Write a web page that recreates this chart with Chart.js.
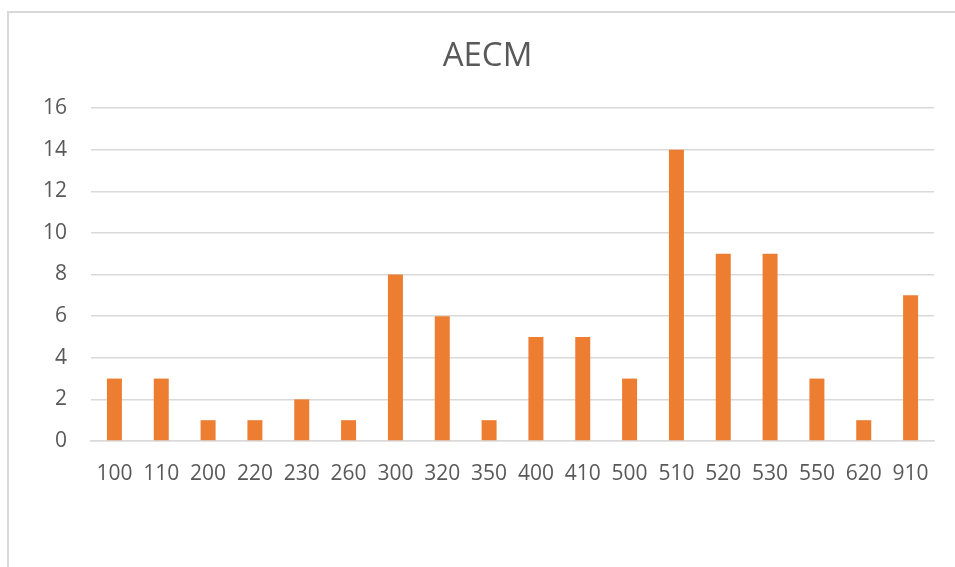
<!DOCTYPE html>
<html>
<head>
<meta charset="utf-8">
<script src="https://cdn.jsdelivr.net/npm/chart.js@4/dist/chart.umd.min.js"></script>
<style>
  html, body { margin: 0; padding: 0; background: #ffffff; }
  #wrap { width: 955px; height: 567px; position: relative; }
</style>
</head>
<body>
<div id="wrap"><canvas id="c" width="955" height="567"></canvas></div>
<script>
// Category labels (codes) and counts per code
const categories = ['100','110','200','220','230','260','300','320','350','400','410','500','510','520','530','550','620','910'];
const counts = [3, 3, 1, 1, 2, 1, 8, 6, 1, 5, 5, 3, 14, 9, 9, 3, 1, 7];
const yTicks = [0, 2, 4, 6, 8, 10, 12, 14, 16];
const chartTitle = 'AECM';

const textColor = '#595959';
const gridColor = '#d9d9d9';
const barColor = '#ED7D31';
const fontFamily = '"Open Sans", "Liberation Sans", sans-serif';

// Light frame around the chart (left and top edges visible) and the centred title
const framePlugin = {
  id: 'frame',
  beforeDraw(chart) {
    const ctx = chart.ctx;
    ctx.save();
    ctx.fillStyle = '#ffffff';
    ctx.fillRect(0, 0, chart.width, chart.height);
    ctx.strokeStyle = gridColor;
    ctx.lineWidth = 2;
    ctx.beginPath();
    ctx.moveTo(8, chart.height);
    ctx.lineTo(8, 12);
    ctx.lineTo(chart.width, 12);
    ctx.stroke();
    ctx.restore();
  },
  afterDraw(chart) {
    const ctx = chart.ctx;
    ctx.save();
    ctx.fillStyle = textColor;
    ctx.font = '33px ' + fontFamily;
    ctx.textAlign = 'center';
    ctx.textBaseline = 'middle';
    ctx.fillText(chartTitle, (8 + chart.width) / 2 + 6, 57);
    ctx.restore();
  }
};

new Chart(document.getElementById('c'), {
  type: 'bar',
  data: {
    labels: categories,
    datasets: [{
      label: chartTitle,
      data: counts,
      backgroundColor: barColor,
      borderWidth: 0,
      categoryPercentage: 1,
      barPercentage: 0.32
    }]
  },
  options: {
    responsive: false,
    animation: false,
    layout: { padding: { left: 8, right: 21, top: 108, bottom: 86 } },
    plugins: {
      legend: { display: false },
      tooltip: { enabled: false },
      title: { display: false }
    },
    scales: {
      x: {
        grid: { display: false, drawTicks: false },
        border: { display: true, color: gridColor, width: 1.5 },
        ticks: {
          color: textColor,
          font: { family: fontFamily, size: 21 },
          padding: 20,
          maxRotation: 0,
          autoSkip: false
        },
        afterFit(scale) { scale.height = 40; }
      },
      y: {
        min: 0,
        max: 16,
        afterBuildTicks(scale) { scale.ticks = yTicks.map(v => ({ value: v })); },
        grid: { color: gridColor, lineWidth: 1.5, drawTicks: false },
        border: { display: false },
        ticks: {
          color: textColor,
          font: { family: fontFamily, size: 21 },
          padding: 24
        },
        afterFit(scale) { scale.width = 83; }
      }
    }
  },
  plugins: [framePlugin]
});
</script>
</body>
</html>
